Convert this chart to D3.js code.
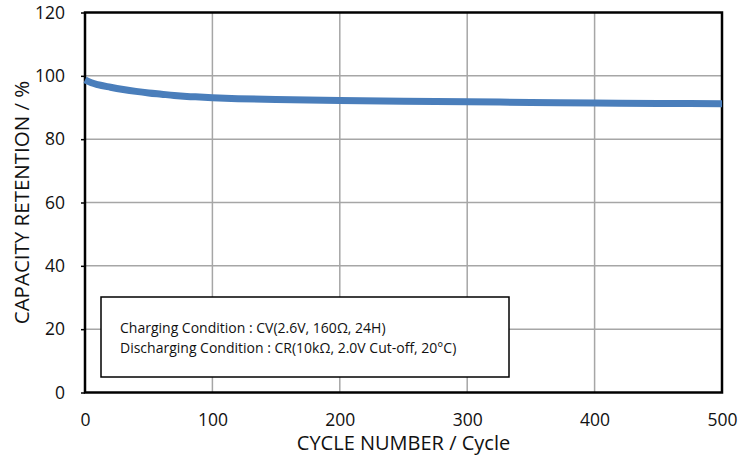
<!DOCTYPE html>
<html>
<head>
<meta charset="utf-8">
<script src="https://cdn.jsdelivr.net/npm/d3@7"></script>
<style>
  body { margin: 0; background: #fff; }
  text { font-family: "Open Sans", "Noto Sans", sans-serif; fill: #111; }
</style>
</head>
<body>
<div id="chart"></div>
<script>
// cycle number vs capacity retention
var cycles    = [0, 5, 10, 20, 30, 40, 50, 60, 70, 80, 90, 100, 120, 150, 200, 250, 300, 350, 400, 450, 500];
var retention = [98.7, 97.8, 97.2, 96.4, 95.7, 95.1, 94.6, 94.2, 93.8, 93.5, 93.3, 93.1, 92.8, 92.5, 92.2, 92.0, 91.8, 91.6, 91.4, 91.3, 91.2];
var xTicks = [0, 100, 200, 300, 400, 500];
var yTicks = [0, 20, 40, 60, 80, 100, 120];
var notes = ["Charging Condition : CV(2.6V, 160\u03A9, 24H)",
             "Discharging Condition : CR(10k\u03A9, 2.0V Cut-off, 20\u00B0C)"];

var W = 753, H = 457;
var m = { left: 85, right: 31, top: 12.5, bottom: 64.5 };

var svg = d3.select("#chart").append("svg")
  .attr("width", W)
  .attr("height", H);

var x = d3.scaleLinear().domain([0, 500]).range([m.left, W - m.right]);
var y = d3.scaleLinear().domain([0, 120]).range([H - m.bottom, m.top]);

// grid
svg.append("g").selectAll("line").data(yTicks.slice(1, -1)).enter().append("line")
  .attr("x1", x(0)).attr("x2", x(500))
  .attr("y1", function (d) { return y(d); })
  .attr("y2", function (d) { return y(d); })
  .style("stroke", "#a6a6a6").style("stroke-width", 1.5);
svg.append("g").selectAll("line").data(xTicks.slice(1, -1)).enter().append("line")
  .attr("y1", y(0)).attr("y2", y(120))
  .attr("x1", function (d) { return x(d); })
  .attr("x2", function (d) { return x(d); })
  .style("stroke", "#a6a6a6").style("stroke-width", 1.5);

// axes
var xAxis = svg.append("g")
  .attr("transform", "translate(0," + y(0) + ")")
  .call(d3.axisBottom(x).tickValues(xTicks).tickSize(0).tickPadding(21));
var yAxis = svg.append("g")
  .attr("transform", "translate(" + x(0) + ",0)")
  .call(d3.axisLeft(y).tickValues(yTicks).tickSize(4).tickPadding(16));
[xAxis, yAxis].forEach(function (g) {
  g.select(".domain").remove();
  g.selectAll("line").style("stroke", "#000").style("stroke-width", 1.5);
  g.selectAll("text").style("font-size", "17.5px").style("font-family", "'Open Sans', sans-serif").style("fill", "#111");
});

// plot frame
svg.append("rect")
  .attr("x", x(0)).attr("y", y(120))
  .attr("width", x(500) - x(0)).attr("height", y(0) - y(120))
  .style("fill", "none").style("stroke", "#000").style("stroke-width", 2.5);

// series
var line = d3.line()
  .x(function (d, i) { return x(cycles[i]); })
  .y(function (d) { return y(d); })
  .curve(d3.curveMonotoneX);
svg.append("path")
  .datum(retention)
  .attr("d", line)
  .style("fill", "none")
  .style("stroke", "#4a7ebb")
  .style("stroke-width", 7);

// condition box
svg.append("rect")
  .attr("x", 101).attr("y", 297).attr("width", 408).attr("height", 80)
  .style("fill", "#fff").style("stroke", "#000").style("stroke-width", 1.5);
svg.append("g").selectAll("text").data(notes).enter().append("text")
  .attr("x", 120)
  .attr("y", function (d, i) { return 333 + i * 20; })
  .style("font-size", "14px")
  .text(function (d) { return d; });

// axis titles
svg.append("text")
  .attr("x", (x(0) + x(500)) / 2).attr("y", 450)
  .attr("text-anchor", "middle")
  .style("font-size", "20px")
  .text("CYCLE NUMBER / Cycle");
svg.append("text")
  .attr("transform", "translate(29," + (y(0) + y(120)) / 2 + ") rotate(-90)")
  .attr("text-anchor", "middle")
  .style("font-size", "20.5px")
  .text("CAPACITY RETENTION / %");
</script>
</body>
</html>
